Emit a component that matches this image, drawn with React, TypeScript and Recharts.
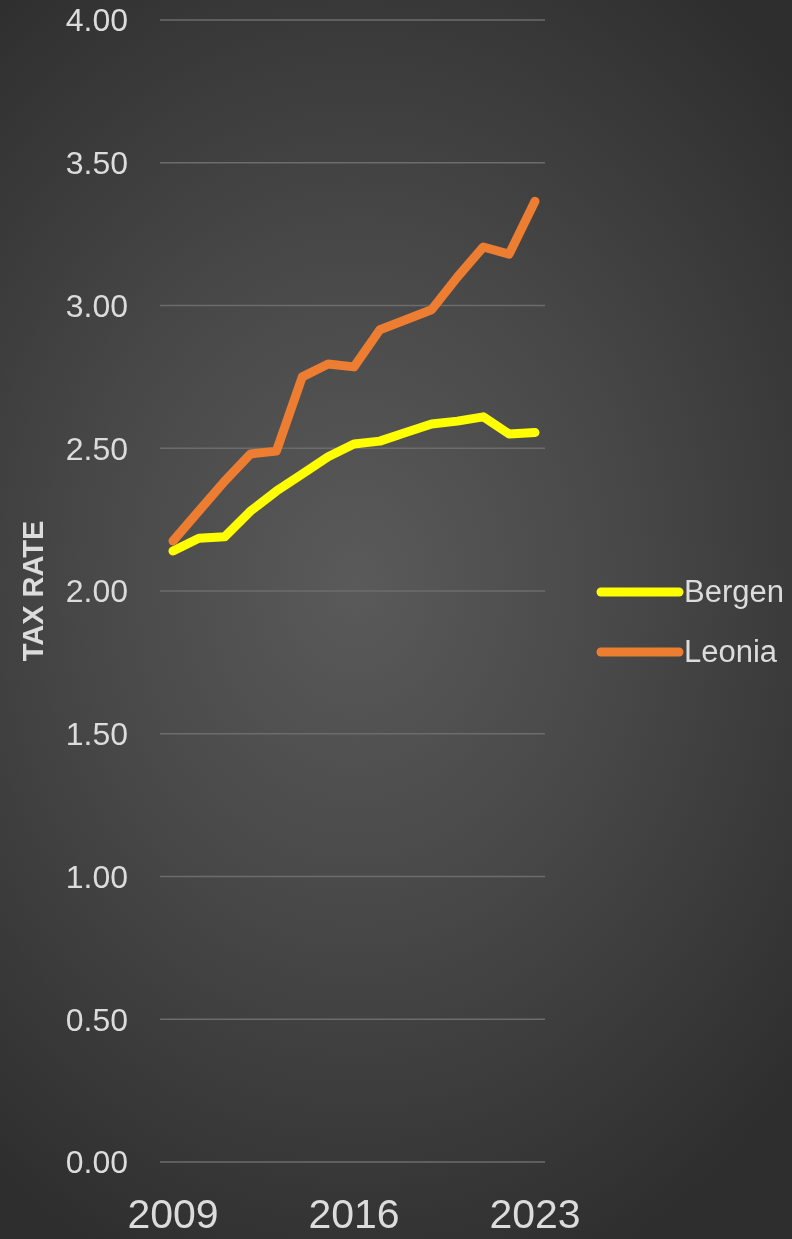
import { LineChart, Line, XAxis, YAxis, CartesianGrid } from "recharts";

const years = [2009, 2010, 2011, 2012, 2013, 2014, 2015, 2016, 2017, 2018, 2019, 2020, 2021, 2022, 2023];
const bergen = [2.14, 2.185, 2.19, 2.28, 2.35, 2.41, 2.47, 2.515, 2.525, 2.555, 2.585, 2.595, 2.61, 2.55, 2.555];
const leonia = [2.175, 2.28, 2.385, 2.48, 2.49, 2.75, 2.795, 2.785, 2.915, 2.95, 2.985, 3.1, 3.205, 3.18, 3.365];
const yTicks = [0, 0.5, 1, 1.5, 2, 2.5, 3, 3.5, 4];
const xTicks = [2009, 2016, 2023];

const series = [
  { key: "Bergen", values: bergen, color: "#FFFF00" },
  { key: "Leonia", values: leonia, color: "#ED7D31" },
];

const data = years.map((year, i) => ({
  year,
  Bergen: bergen[i],
  Leonia: leonia[i],
}));

const FONT = "'Liberation Sans', Arial, sans-serif";
const TEXT = "#dcdcdc";

// legend drawn beside the chart so it doesn't eat into the plot height
const ChartLegend = () => (
  <div style={{ position: "absolute", left: 594, top: 562, fontFamily: FONT }}>
    {series.map((s) => (
      <div key={s.key} style={{ display: "flex", alignItems: "center", height: 60 }}>
        <svg width={90} height={12}>
          <line x1={7} y1={6} x2={85} y2={6} stroke={s.color} strokeWidth={9} strokeLinecap="round" />
        </svg>
        <span style={{ color: TEXT, fontSize: 31, marginLeft: 0 }}>{s.key}</span>
      </div>
    ))}
  </div>
);

// rotated axis title, centred on the plot height
const AxisTitle = ({ viewBox }: any) => {
  const cy = viewBox.y + viewBox.height / 2;
  const cx = 33;
  return (
    <text
      x={cx}
      y={cy}
      transform={`rotate(-90 ${cx} ${cy})`}
      textAnchor="middle"
      dominantBaseline="central"
      fill={TEXT}
      fontSize={29}
      fontWeight="bold"
      fontFamily={FONT}
    >
      TAX RATE
    </text>
  );
};

export default function App() {
  return (
    <div
      style={{
        position: "fixed",
        left: 0,
        top: 0,
        width: 792,
        height: 1239,
        background: "radial-gradient(ellipse 75% 60% at 45% 47%, #5a5a5a 0%, #484848 45%, #2e2e2e 100%)",
      }}
    >
      <LineChart width={792} height={1239} data={data} margin={{ top: 20, right: 247, bottom: 0, left: 0 }}>
        <CartesianGrid vertical={false} stroke="#6c6c6c" strokeWidth={1.5} />
        <XAxis
          dataKey="year"
          ticks={xTicks}
          interval={0}
          padding={{ left: 13, right: 10 }}
          axisLine={false}
          tickLine={false}
          tickSize={0}
          tickMargin={37}
          height={77}
          tick={{ fill: TEXT, fontSize: 41, fontFamily: FONT }}
        />
        <YAxis
          domain={[0, 4]}
          ticks={yTicks}
          width={160}
          axisLine={false}
          tickLine={false}
          tickSize={0}
          tickMargin={32}
          tickFormatter={(v: number) => v.toFixed(2)}
          tick={{ fill: TEXT, fontSize: 32, fontFamily: FONT }}
          label={{ content: AxisTitle }}
        />
        {series.map((s) => (
          <Line
            key={s.key}
            dataKey={s.key}
            stroke={s.color}
            strokeWidth={9}
            strokeLinecap="round"
            strokeLinejoin="round"
            dot={false}
            activeDot={false}
            isAnimationActive={false}
          />
        ))}
      </LineChart>
      <ChartLegend />
    </div>
  );
}
